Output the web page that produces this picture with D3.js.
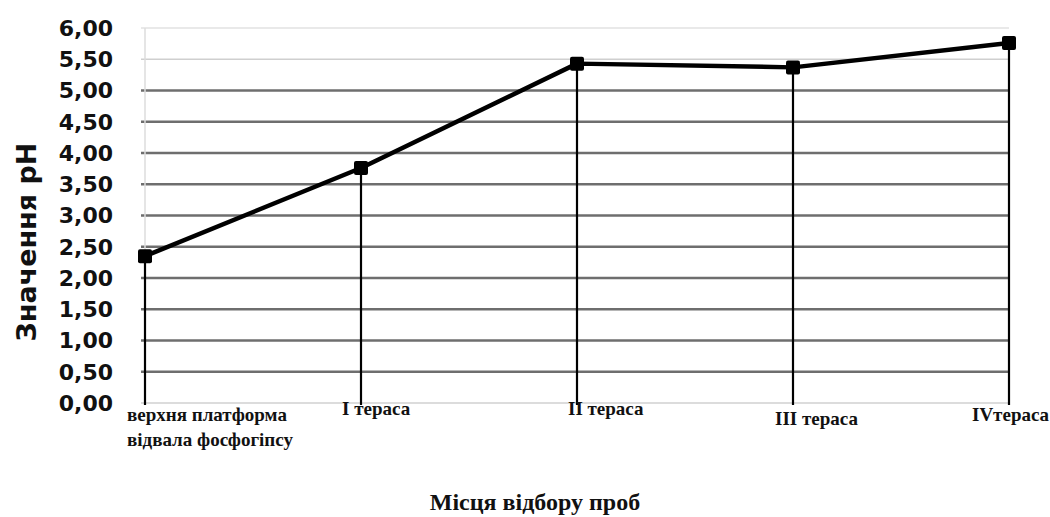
<!DOCTYPE html>
<html><head><meta charset="utf-8">
<script src="https://cdn.jsdelivr.net/npm/d3@7"></script>
<style>body{margin:0;background:#fff}</style>
</head><body>
<svg id="c" width="1050" height="517"></svg>
<script>
const categories = ["верхня платформа|відвала фосфогіпсу", "I тераса", "II тераса", "III тераса", "IVтераса"];
const phValues = [2.35, 3.76, 5.43, 5.37, 5.76];
const yTicks = [0,0.5,1,1.5,2,2.5,3,3.5,4,4.5,5,5.5,6];
const yTitle = "Значення pH";
const xTitle = "Місця відбору проб";

// layout/styling
const labelDx = [-18, -19, -9, -18, -37];
const labelDy = [0, -6, -6, 4, 0];

const svg = d3.select("#c");
const L = 145, R = 1009, T = 28, B = 403;
const x = d3.scalePoint().domain(categories).range([L, R]).padding(0);
const y = d3.scaleLinear().domain([0, 6]).range([B, T]);

// gridlines
const gridColor = v => v >= 6 ? "#e2e2e2" : (v >= 5.5 ? "#cfcfcf" : "#6e6e6e");
svg.append("g").selectAll("line").data(yTicks.filter(v => v > 0)).join("line")
  .attr("x1", L - 4).attr("x2", R).attr("y1", d => y(d)).attr("y2", d => y(d))
  .attr("stroke", d => gridColor(d)).attr("stroke-width", d => d >= 5.5 ? 1.5 : 2.5);
// x axis line
svg.append("line").attr("x1", L - 4).attr("x2", R).attr("y1", y(0)).attr("y2", y(0))
  .attr("stroke", "#d0d0d0").attr("stroke-width", 1.5);
// y axis line
svg.append("line").attr("x1", L).attr("x2", L).attr("y1", y(6)).attr("y2", y(0))
  .attr("stroke", "#dcdcdc").attr("stroke-width", 1.5);

// y tick labels
svg.append("g").selectAll("text").data(yTicks).join("text")
  .attr("x", 113).attr("y", d => y(d)).attr("dy", "0.36em")
  .attr("text-anchor", "end")
  .attr("font-family", "DejaVu Sans").attr("font-weight", "bold").attr("font-size", 22)
  .attr("fill", "#111")
  .text(d => d3.format(".2f")(d).replace(".", ","));

// y title
svg.append("text").attr("transform", `translate(36,242) rotate(-90)`)
  .attr("text-anchor", "middle")
  .attr("font-family", "DejaVu Sans").attr("font-weight", "bold").attr("font-size", 27)
  .attr("fill", "#111").text(yTitle);

// drop lines
svg.append("g").selectAll("line").data(categories).join("line")
  .attr("x1", d => x(d)).attr("x2", d => x(d))
  .attr("y1", (d, i) => y(phValues[i])).attr("y2", y(0) + 2)
  .attr("stroke", "#000").attr("stroke-width", 2.2);

// line
const line = d3.line().x((d, i) => x(categories[i])).y(d => y(d));
svg.append("path").datum(phValues).attr("d", line)
  .attr("fill", "none").attr("stroke", "#000").attr("stroke-width", 4.5).attr("stroke-linejoin", "round");

// markers
svg.append("g").selectAll("rect").data(phValues).join("rect")
  .attr("x", (d, i) => x(categories[i]) - 7).attr("y", d => y(d) - 7)
  .attr("width", 14).attr("height", 14).attr("rx", 2)
  .attr("fill", "#000");

// x labels
const xl = svg.append("g").selectAll("text").data(categories).join("text")
  .attr("x", (d, i) => x(d) + labelDx[i]).attr("y", (d, i) => 421 + labelDy[i])
  .attr("font-family", "Liberation Serif").attr("font-weight", "bold").attr("font-size", 19)
  .attr("fill", "#111");
xl.each(function(d) {
  const parts = d.split("|");
  const t = d3.select(this);
  const x0 = +t.attr("x");
  parts.forEach((p, k) => t.append("tspan").attr("x", x0).attr("dy", k === 0 ? 0 : 25).text(p));
});

// x title
svg.append("text").attr("x", 535).attr("y", 510).attr("text-anchor", "middle")
  .attr("font-family", "Liberation Serif").attr("font-weight", "bold").attr("font-size", 24)
  .attr("fill", "#111").text(xTitle);
</script>
</body></html>
